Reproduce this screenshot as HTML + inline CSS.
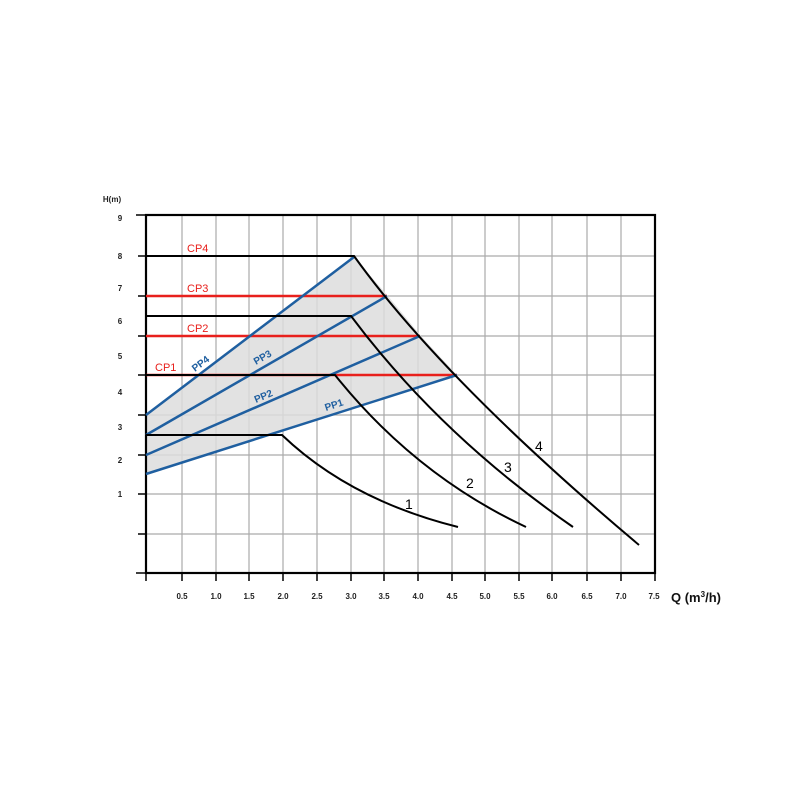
<!DOCTYPE html>
<html><head><style>body{margin:0;background:#fff}svg{display:block}</style></head>
<body>
<svg width="800" height="800" viewBox="0 0 800 800" xmlns="http://www.w3.org/2000/svg" font-family="'Liberation Sans',sans-serif">
<rect width="800" height="800" fill="#fff"/>
<g stroke="#aaa" stroke-width="1.2">
<line x1="182" y1="215" x2="182" y2="573"/><line x1="216" y1="215" x2="216" y2="573"/><line x1="249" y1="215" x2="249" y2="573"/><line x1="283" y1="215" x2="283" y2="573"/><line x1="317" y1="215" x2="317" y2="573"/><line x1="351" y1="215" x2="351" y2="573"/><line x1="384" y1="215" x2="384" y2="573"/><line x1="418" y1="215" x2="418" y2="573"/><line x1="452" y1="215" x2="452" y2="573"/><line x1="485" y1="215" x2="485" y2="573"/><line x1="519" y1="215" x2="519" y2="573"/><line x1="552" y1="215" x2="552" y2="573"/><line x1="587" y1="215" x2="587" y2="573"/><line x1="621" y1="215" x2="621" y2="573"/>
<line x1="146" y1="256" x2="655" y2="256"/><line x1="146" y1="296" x2="655" y2="296"/><line x1="146" y1="336" x2="655" y2="336"/><line x1="146" y1="375" x2="655" y2="375"/><line x1="146" y1="415" x2="655" y2="415"/><line x1="146" y1="455" x2="655" y2="455"/><line x1="146" y1="494" x2="655" y2="494"/><line x1="146" y1="534" x2="655" y2="534"/>
</g>
<polygon points="146,415 354,257 388,296 421,336 457,375 146,474" fill="#ddd" fill-opacity="0.85"/>
<g stroke="#000" stroke-width="2.2" fill="none">
<rect x="146" y="215" width="509" height="358"/>
</g>
<g stroke="#000" stroke-width="1.5">
<line x1="136" y1="215" x2="146" y2="215"/><line x1="138" y1="256" x2="146" y2="256"/><line x1="138" y1="296" x2="146" y2="296"/><line x1="138" y1="336" x2="146" y2="336"/><line x1="138" y1="375" x2="146" y2="375"/><line x1="138" y1="415" x2="146" y2="415"/><line x1="138" y1="455" x2="146" y2="455"/><line x1="138" y1="494" x2="146" y2="494"/><line x1="138" y1="534" x2="146" y2="534"/><line x1="136" y1="573" x2="146" y2="573"/>
<line x1="146" y1="573" x2="146" y2="581"/><line x1="182" y1="573" x2="182" y2="581"/><line x1="216" y1="573" x2="216" y2="581"/><line x1="249" y1="573" x2="249" y2="581"/><line x1="283" y1="573" x2="283" y2="581"/><line x1="317" y1="573" x2="317" y2="581"/><line x1="351" y1="573" x2="351" y2="581"/><line x1="384" y1="573" x2="384" y2="581"/><line x1="418" y1="573" x2="418" y2="581"/><line x1="452" y1="573" x2="452" y2="581"/><line x1="485" y1="573" x2="485" y2="581"/><line x1="519" y1="573" x2="519" y2="581"/><line x1="552" y1="573" x2="552" y2="581"/><line x1="587" y1="573" x2="587" y2="581"/><line x1="621" y1="573" x2="621" y2="581"/><line x1="655" y1="573" x2="655" y2="581"/>
</g>
<g stroke="#e8201c" stroke-width="2.5">
<line x1="146" y1="296" x2="387" y2="296"/>
<line x1="146" y1="336" x2="420" y2="336"/>
<line x1="146" y1="375" x2="457" y2="375"/>
</g>
<g stroke="#1f5fa0" stroke-width="2.5">
<line x1="146" y1="415" x2="354" y2="257"/>
<line x1="146" y1="435" x2="387" y2="296"/>
<line x1="146" y1="455" x2="420" y2="336"/>
<line x1="146" y1="474" x2="457" y2="375"/>
</g>
<g stroke="#000" stroke-width="2" fill="none">
<path d="M146,256 L354,256 Q443,380 639,545"/>
<path d="M146,316 L351,316 Q440,435 573,527"/>
<path d="M146,375 L335,375 Q415,475 526,527"/>
<path d="M146,435 L282,435 Q350,500 458,527"/>
</g>
<g font-size="11" fill="#e8201c">
<text x="187" y="252">CP4</text><text x="187" y="292">CP3</text><text x="187" y="332">CP2</text><text x="155" y="371">CP1</text>
</g>
<g font-size="10" fill="#1f5fa0" font-weight="bold">
<text transform="translate(195,372) rotate(-37)">PP4</text>
<text transform="translate(256,365) rotate(-30)">PP3</text>
<text transform="translate(256,403) rotate(-23)">PP2</text>
<text transform="translate(326,411) rotate(-18)">PP1</text>
</g>
<g font-size="14" fill="#000">
<text x="405" y="509">1</text><text x="466" y="488">2</text><text x="504" y="472">3</text><text x="535" y="451">4</text>
</g>
<g font-size="8" font-weight="bold" fill="#222" text-anchor="middle">
<text x="120" y="221">9</text><text x="120" y="259">8</text><text x="120" y="291">7</text><text x="120" y="324">6</text><text x="120" y="359">5</text><text x="120" y="395">4</text><text x="120" y="430">3</text><text x="120" y="463">2</text><text x="120" y="497">1</text>
<text x="112" y="202">H(m)</text>
<text x="182" y="599">0.5</text><text x="216" y="599">1.0</text><text x="249" y="599">1.5</text><text x="283" y="599">2.0</text><text x="317" y="599">2.5</text><text x="351" y="599">3.0</text><text x="384" y="599">3.5</text><text x="418" y="599">4.0</text><text x="452" y="599">4.5</text><text x="485" y="599">5.0</text><text x="519" y="599">5.5</text><text x="552" y="599">6.0</text><text x="587" y="599">6.5</text><text x="621" y="599">7.0</text><text x="654" y="599">7.5</text>
</g>
<text x="671" y="602" font-size="13" font-weight="bold" fill="#111">Q (m<tspan font-size="8" dy="-5">3</tspan><tspan dy="5">/h)</tspan></text>
</svg>
</body></html>
